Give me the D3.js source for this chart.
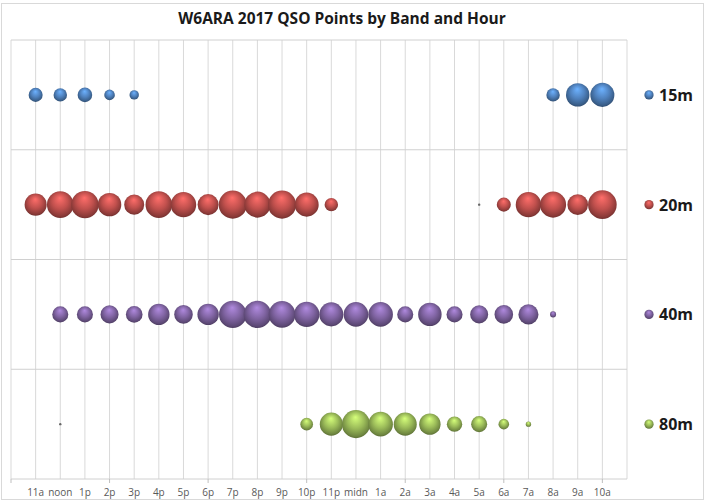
<!DOCTYPE html>
<html>
<head>
<meta charset="utf-8">
<script src="https://cdn.jsdelivr.net/npm/d3@7"></script>
<style>
  body { margin: 0; background: #fff; }
  text { font-family: "Open Sans", "Liberation Sans", sans-serif; }
</style>
</head>
<body>
<div class="vis"></div>
<script>
// hours across the bottom
const hours = ["11a", "noon", "1p", "2p", "3p", "4p", "5p", "6p", "7p", "8p", "9p", "10p",
               "11p", "midn", "1a", "2a", "3a", "4a", "5a", "6a", "7a", "8a", "9a", "10a"];
const bands = ["15m", "20m", "40m", "80m"];

// QSO points per hour (null = no bubble)
const pts15 = [49, 45, 53, 28, 22, null, null, null, null, null, null, null,
               null, null, null, null, null, null, null, null, null, 45, 137, 144];
const pts20 = [121, 177, 188, 137, 100, 177, 161, 110, 196, 169, 196, 144,
               45, null, null, null, null, null, 1, 49, 161, 169, 106, 204];
const pts40 = [null, 64, 64, 81, 69, 114, 86, 114, 188, 188, 177, 161,
               144, 151, 151, 64, 137, 64, 81, 86, 100, 9, null, null];
const pts80 = [null, 1, null, null, null, null, null, null, null, null, null, 40,
               132, 196, 151, 132, 114, 59, 64, 28, 7, null, null, null];

const colors = ["#4f81bd", "#c0504d", "#8064a2", "#9bbb59"];
const allPts = [pts15, pts20, pts40, pts80];

const W = 713, H = 500;
const plot = { l: 11, r: 627, t: 40, b: 479 };

const svg = d3.select(".vis").append("svg").attr("width", W).attr("height", H);

// chart frame
svg.append("rect").attr("x", 1.5).attr("y", 3.5).attr("width", 702).attr("height", 496)
    .attr("fill", "#fff").attr("stroke", "#d9d9d9");

const x = d3.scaleLinear().domain([0, 25]).range([plot.l, plot.r]);
const y = d3.scaleLinear().domain([0, 4]).range([plot.t, plot.b]);
const rScale = d3.scaleSqrt().domain([0, 204]).range([0, 14.3]);

// gradients for the shaded bubbles
const defs = svg.append("defs");
colors.forEach((c, i) => {
    const g = defs.append("radialGradient").attr("id", `ball${i}`)
        .attr("cx", "50%").attr("cy", "45%").attr("r", "55%")
        .attr("fx", "48%").attr("fy", "25%");
    g.append("stop").attr("offset", "0%").attr("stop-color", d3.color(c).brighter(0.9));
    g.append("stop").attr("offset", "55%").attr("stop-color", c);
    g.append("stop").attr("offset", "90%").attr("stop-color", d3.color(c).darker(0.9));
    g.append("stop").attr("offset", "100%").attr("stop-color", d3.color(c).darker(1.4));
});

// grid
svg.append("g").selectAll("line").data(d3.range(0, 26)).join("line")
    .attr("x1", d => x(d)).attr("x2", d => x(d))
    .attr("y1", plot.t).attr("y2", plot.b)
    .attr("stroke", "#d9d9d9").attr("stroke-width", 1);
svg.append("g").selectAll("line").data(d3.range(0, 5)).join("line")
    .attr("x1", plot.l).attr("x2", plot.r)
    .attr("y1", d => y(d)).attr("y2", d => y(d))
    .attr("stroke", "#d0d0d0").attr("stroke-width", 1);

// bottom axis stubs
svg.append("g").selectAll("line").data(d3.range(0, 25, 4)).join("line")
    .attr("x1", d => x(d)).attr("x2", d => x(d))
    .attr("y1", plot.b).attr("y2", plot.b + 4)
    .attr("stroke", "#bfbfbf");

// hour labels
svg.append("g").selectAll("text").data(hours).join("text")
    .attr("x", (d, i) => x(i + 1)).attr("y", 496)
    .attr("text-anchor", "middle")
    .attr("font-size", 10).attr("fill", "#595959")
    .text(d => d);

// bubbles
allPts.forEach((series, bi) => {
    const cy = y(bi + 0.5);
    const data = series.map((v, i) => ({ v, i })).filter(d => d.v != null);
    svg.append("g").selectAll("circle").data(data).join("circle")
        .attr("cx", d => x(d.i + 1)).attr("cy", cy)
        .attr("r", d => Math.max(1.2, rScale(d.v)))
        .attr("fill", d => rScale(d.v) < 2 ? "#666" : `url(#ball${bi})`);
});

// legend
const leg = svg.append("g").selectAll("g").data(bands).join("g")
    .attr("transform", (d, i) => `translate(649, ${y(i + 0.5)})`);
leg.append("circle").attr("r", 4.6).attr("fill", (d, i) => `url(#ball${i})`);
leg.append("text").attr("x", 10).attr("y", 6)
    .attr("font-size", 16).attr("font-weight", "bold").attr("fill", "#1a1a1a")
    .text(d => d);

// title
svg.append("text").attr("x", 342).attr("y", 24)
    .attr("text-anchor", "middle").attr("font-size", 15.5).attr("font-weight", "bold")
    .attr("fill", "#1a1a1a")
    .text("W6ARA 2017 QSO Points by Band and Hour");
</script>
</body>
</html>
